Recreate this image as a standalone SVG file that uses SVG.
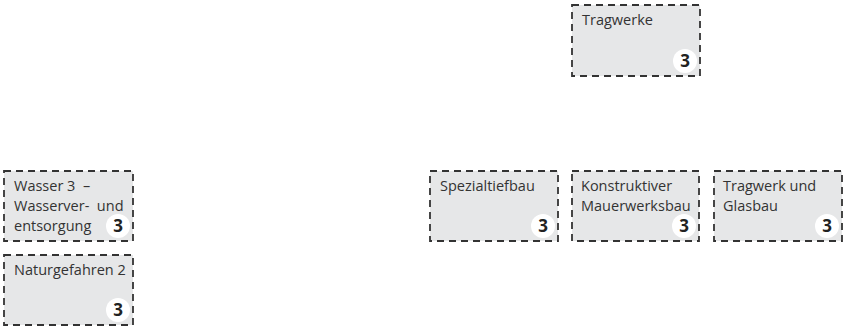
<svg xmlns="http://www.w3.org/2000/svg" width="849" height="327" viewBox="0 0 849 327">
<defs>
<style>
.box{fill:#e6e7e8;stroke:#333;stroke-width:1.8;stroke-dasharray:7 5}
.lbl{font-family:"Open Sans","Noto Sans",sans-serif;font-size:14.5px;fill:#333;white-space:pre}
.badge{fill:#fff}
.num{font-family:"Open Sans","Noto Sans",sans-serif;font-size:17px;font-weight:bold;fill:#222;text-anchor:middle}
</style>
</defs>
<rect width="849" height="327" fill="#fff"/>
<g id="connectors"></g>
<g id="tragwerke">
<rect class="box" x="572" y="5" width="128" height="71"/>
<text class="lbl" x="582" y="25">Tragwerke</text>
<circle class="badge" cx="685" cy="61" r="12"/>
<text class="num" x="685" y="67">3</text>
</g>
<g id="wasser">
<rect class="box" x="4" y="171" width="129" height="70"/>
<text class="lbl" x="14" y="191">Wasser 3  –</text>
<text class="lbl" x="14" y="211">Wasserver-  und</text>
<text class="lbl" x="14" y="231">entsorgung</text>
<circle class="badge" cx="118" cy="226" r="12"/>
<text class="num" x="118" y="232">3</text>
</g>
<g id="naturgefahren">
<rect class="box" x="4" y="255" width="129" height="70"/>
<text class="lbl" x="14" y="275">Naturgefahren 2</text>
<circle class="badge" cx="118" cy="310" r="12"/>
<text class="num" x="118" y="316">3</text>
</g>
<g id="spezialtiefbau">
<rect class="box" x="430" y="171" width="128" height="70"/>
<text class="lbl" x="440" y="191">Spezialtiefbau</text>
<circle class="badge" cx="543" cy="226" r="12"/>
<text class="num" x="543" y="232">3</text>
</g>
<g id="mauerwerksbau">
<rect class="box" x="572" y="171" width="127" height="70"/>
<text class="lbl" x="581" y="191">Konstruktiver</text>
<text class="lbl" x="581" y="211">Mauerwerksbau</text>
<circle class="badge" cx="684" cy="226" r="12"/>
<text class="num" x="684" y="232">3</text>
</g>
<g id="glasbau">
<rect class="box" x="714" y="171" width="128" height="70"/>
<text class="lbl" x="723" y="191">Tragwerk und</text>
<text class="lbl" x="723" y="211">Glasbau</text>
<circle class="badge" cx="827" cy="226" r="12"/>
<text class="num" x="827" y="232">3</text>
</g>
</svg>
